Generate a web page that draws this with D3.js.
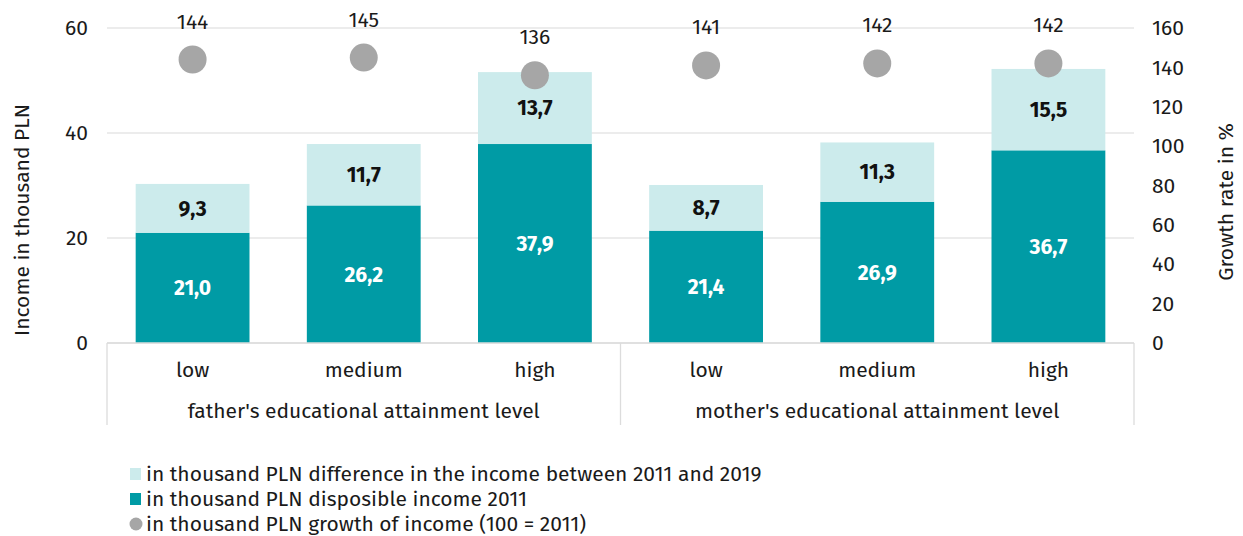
<!DOCTYPE html>
<html><head><meta charset="utf-8">
<script src="https://cdn.jsdelivr.net/npm/d3@7"></script>
<style>body{margin:0;background:#fff}text{font-family:"Fira Sans","Noto Sans","Open Sans",sans-serif}</style>
</head><body><svg id="c" width="1243" height="536"></svg>
<script>
const categories = ["low","medium","high","low","medium","high"];
const groups = ["father's educational attainment level","mother's educational attainment level"];
const income2011 = [21.0,26.2,37.9,21.4,26.9,36.7];
const difference = [9.3,11.7,13.7,8.7,11.3,15.5];
const growth = [144,145,136,141,142,142];
const leftTicks = [0,20,40,60];
const rightTicks = [0,20,40,60,80,100,120,140,160];
const legendLabels = ["in thousand PLN difference in the income between 2011 and 2019","in thousand PLN disposible income 2011","in thousand PLN growth of income (100 = 2011)"];

const FS = 21;
const svg = d3.select("#c");
const L=107, R=1134, T=28, B=343;
const x = d3.scaleBand().domain(d3.range(categories.length)).range([L,R]).paddingInner(0.335).paddingOuter(0.1675);
const y = d3.scaleLinear().domain([0,60]).range([B,T]);
const y2 = d3.scaleLinear().domain([0,160]).range([B,T]);
const fmt = v => d3.format(".1f")(v).replace(".",",");
const dark="#009BA5", light="#CCEBEC", dot="#A6A6A6", ink="#1a1a1a";

// gridlines
svg.append("g").selectAll("line").data(leftTicks).join("line")
 .attr("x1",L).attr("x2",R).attr("y1",d=>y(d)).attr("y2",d=>y(d))
 .attr("stroke","#e6e6e6").attr("stroke-width",1.3);
// left axis
const la = svg.append("g").attr("transform",`translate(${L},0)`)
 .call(d3.axisLeft(y).tickValues(leftTicks).tickSize(0).tickPadding(19));
la.select(".domain").remove();
la.selectAll("text").attr("font-size",FS).attr("fill",ink);
// right axis
const ra = svg.append("g").attr("transform",`translate(${R},0)`)
 .call(d3.axisRight(y2).tickValues(rightTicks).tickSize(0).tickPadding(18));
ra.select(".domain").remove();
ra.selectAll("text").attr("font-size",FS).attr("fill",ink);

// bars
const bw = x.bandwidth();
svg.append("g").selectAll("rect").data(income2011).join("rect")
 .attr("x",(d,i)=>x(i)).attr("width",bw).attr("y",d=>y(d)).attr("height",d=>y(0)-y(d)).attr("fill",dark);
svg.append("g").selectAll("rect").data(difference).join("rect")
 .attr("x",(d,i)=>x(i)).attr("width",bw).attr("y",(d,i)=>y(income2011[i]+d)).attr("height",d=>y(0)-y(d)).attr("fill",light);
// bar labels
svg.append("g").selectAll("text").data(income2011).join("text")
 .attr("x",(d,i)=>x(i)+bw/2).attr("y",d=>y(d/2)).attr("dy","0.35em").attr("text-anchor","middle")
 .attr("font-size",FS).attr("font-weight","bold").attr("fill","#fff").text(fmt);
svg.append("g").selectAll("text").data(difference).join("text")
 .attr("x",(d,i)=>x(i)+bw/2).attr("y",(d,i)=>y(income2011[i]+d/2)).attr("dy","0.35em").attr("text-anchor","middle")
 .attr("font-size",FS).attr("font-weight","bold").attr("fill","#111").text(fmt);

// baseline
svg.append("line").attr("x1",L).attr("x2",R).attr("y1",B).attr("y2",B).attr("stroke","#dcdcdc").attr("stroke-width",1.3);
// vertical separators
[L,(L+R)/2,R].forEach(xx=>svg.append("line").attr("x1",xx).attr("x2",xx).attr("y1",B).attr("y2",425).attr("stroke","#dcdcdc").attr("stroke-width",1.3));

// dots
svg.append("g").selectAll("circle").data(growth).join("circle")
 .attr("cx",(d,i)=>x(i)+bw/2).attr("cy",d=>y2(d)).attr("r",14).attr("fill",dot);
svg.append("g").selectAll("text").data(growth).join("text")
 .attr("x",(d,i)=>x(i)+bw/2).attr("y",d=>y2(d)-31).attr("text-anchor","middle")
 .attr("font-size",FS).attr("fill",ink).text(d=>d);

// category labels
svg.append("g").selectAll("text").data(categories).join("text")
 .attr("x",(d,i)=>x(i)+bw/2).attr("y",377).attr("text-anchor","middle")
 .attr("font-size",FS).attr("fill",ink).text(d=>d);
svg.append("g").selectAll("text").data(groups).join("text")
 .attr("x",(d,i)=>i===0?(L+(L+R)/2)/2:((L+R)/2+R)/2).attr("y",418).attr("text-anchor","middle")
 .attr("font-size",FS).attr("fill",ink).text(d=>d);

// axis titles
svg.append("text").attr("transform","translate(29,220) rotate(-90)").attr("text-anchor","middle")
 .attr("font-size",FS).attr("fill",ink).text("Income in thousand PLN");
svg.append("text").attr("transform","translate(1233,202) rotate(-90)").attr("text-anchor","middle")
 .attr("font-size",FS).attr("fill",ink).text("Growth rate in %");

// legend
const lg = svg.append("g");
const lc=[light,dark,dot];
legendLabels.forEach((t,i)=>{
  const yy=474+i*25;
  if(i<2) lg.append("rect").attr("x",130).attr("y",yy-6).attr("width",11).attr("height",12).attr("fill",lc[i]);
  else lg.append("circle").attr("cx",136).attr("cy",yy).attr("r",6.5).attr("fill",lc[i]);
  lg.append("text").attr("x",146).attr("y",yy).attr("dy","0.35em").attr("font-size",FS).attr("fill",ink).text(t);
});
</script></body></html>
